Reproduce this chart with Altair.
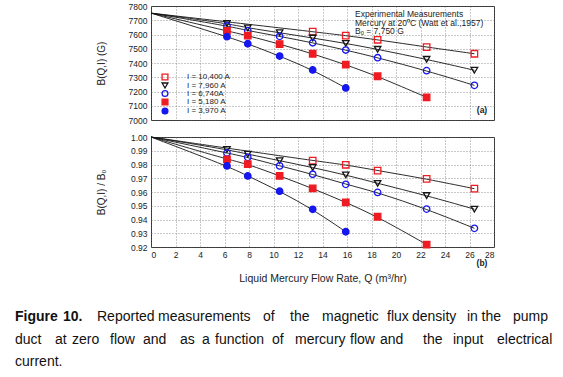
import altair as alt
import pandas as pd

# ---------------- data ----------------
series_labels = ["I = 10,400 A", "I = 7,960 A", "I = 6,740A", "I = 5,180 A", "I = 3,970 A"]

q_10400 = [13.2, 15.9, 18.5, 22.5, 26.4]
q_7960 = [6.2, 7.9, 10.5, 13.2, 15.9, 18.5, 22.5, 26.4]
q_6740 = [6.2, 7.9, 10.5, 13.2, 15.9, 18.5, 22.5, 26.4]
q_5180 = [6.2, 7.9, 10.5, 13.2, 15.9, 18.5, 22.5]
q_3970 = [6.2, 7.9, 10.5, 13.2, 15.9]

# panel (a): B(Q,I) in gauss
b_10400 = [7620, 7592, 7563, 7512, 7465]
b_7960 = [7678, 7646, 7613, 7575, 7538, 7496, 7426, 7349]
b_6740 = [7661, 7627, 7587, 7542, 7491, 7437, 7346, 7243]
b_5180 = [7625, 7592, 7533, 7465, 7388, 7307, 7159]
b_3970 = [7585, 7535, 7449, 7351, 7225]

# panel (b): B(Q,I)/B0
r_10400 = [0.9828, 0.9798, 0.9756, 0.9695, 0.9624]
r_7960 = [0.9909, 0.9875, 0.9828, 0.9778, 0.9724, 0.9663, 0.9574, 0.9475]
r_6740 = [0.9884, 0.9852, 0.9790, 0.9729, 0.9656, 0.9597, 0.9476, 0.9336]
r_5180 = [0.9838, 0.9803, 0.9717, 0.9626, 0.9525, 0.9420, 0.9218]
r_3970 = [0.9790, 0.9717, 0.9606, 0.9474, 0.9311]

# zero-flow values where every curve starts
q_zero = 0.0
b_zero = 7750
r_zero = 1.00

x_ticks = list(range(0, 29, 2))
b_ticks = list(range(7000, 7801, 100))
r_ticks = [0.92, 0.93, 0.94, 0.95, 0.96, 0.97, 0.98, 0.99, 1.00]

annotation_lines = ["Experimental Measurements",
                    "Mercury at 20\u2070C (Watt et al.,1957)",
                    "B\u2092 = 7,750 G"]

caption_line1 = ["Figure", "10.", "Reported", "measurements", "of", "the", "magnetic",
                 "flux", "density", "in", "the", "pump"]
caption_line2 = ["duct", "at", "zero", "flow", "and", "as", "a", "function", "of",
                 "mercury", "flow", "and", "the", "input", "electrical"]
caption_line3 = ["current."]

# ---------------- layout / styles (pixels) ----------------
PW, PH_A, PH_B = 343, 114, 110
GAP = 17
LEFT = 151
TOP = 7
CAP_TOP = TOP + PH_A + GAP + PH_B + GAP
cap_x1 = [15, 63, 97, 158, 263, 290, 322, 387, 412, 467, 481.5, 513]
cap_x2 = [15, 55, 72, 110, 143, 180, 202, 215, 272, 295, 350, 380, 423, 453, 497]
cap_x3 = [15]
cap_base = [322, 345, 367]
legend_sym_x = 14
legend_lab_x = 36
legend_rows_y = [71, 79.5, 87.5, 96, 105]

RED = "#ee1b22"
BLUE = "#1616ee"
BLACK = "#151515"
FONT = "Liberation Sans, Arial, sans-serif"
CAPFONT = "Liberation Sans, Arial, sans-serif"
shapes = ["square", "triangle-down", "circle", "square", "circle"]
strokes = [RED, BLACK, BLUE, RED, BLUE]
fills = ["transparent", "transparent", "transparent", RED, BLUE]

qs = [q_10400, q_7960, q_6740, q_5180, q_3970]
bs = [b_10400, b_7960, b_6740, b_5180, b_3970]
rs = [r_10400, r_7960, r_6740, r_5180, r_3970]

rows, lrows = [], []
for lab, qq, bb, rr in zip(series_labels, qs, bs, rs):
    lrows.append({"series": lab, "q": q_zero, "b": b_zero, "r": r_zero, "o": 0})
    for i, (q, b, r) in enumerate(zip(qq, bb, rr)):
        rows.append({"series": lab, "q": q, "b": b, "r": r})
        lrows.append({"series": lab, "q": q, "b": b, "r": r, "o": i + 1})
pts = pd.DataFrame(rows)
lines = pd.DataFrame(lrows)

shape_scale = alt.Scale(domain=series_labels, range=shapes)
stroke_scale = alt.Scale(domain=series_labels, range=strokes)
fill_scale = alt.Scale(domain=series_labels, range=fills)

xscale = alt.Scale(domain=[0, 28], nice=False, zero=False)
PT_SIZE = 42
PT_SW = 1.3

def yaxis(title, values, fmt):
    return alt.Axis(values=values, format=fmt, title=title, labelPadding=4,
                    minExtent=30, maxExtent=30, titlePadding=15)

def panel(field, ydomain, yticks, fmt, ytitle, x_axis):
    base_x = alt.X("q:Q", scale=xscale, axis=x_axis)
    base_y = alt.Y(f"{field}:Q", scale=alt.Scale(domain=ydomain, nice=False, zero=False),
                   axis=yaxis(ytitle, yticks, fmt))
    ln = alt.Chart(lines).mark_line(color=BLACK, strokeWidth=0.9, interpolate="basis").encode(
        x=base_x, y=base_y, detail="series:N", order="o:Q")
    pt = alt.Chart(pts).mark_point(filled=True, size=PT_SIZE, strokeWidth=PT_SW,
                                   opacity=1).encode(
        x=base_x, y=base_y,
        shape=alt.Shape("series:N", scale=shape_scale, legend=None),
        stroke=alt.Stroke("series:N", scale=stroke_scale, legend=None),
        fill=alt.Fill("series:N", scale=fill_scale, legend=None))
    return [ln, pt]

one = pd.DataFrame({"k": [0]})

def label(txt, x, y, size=8.5, weight="normal", align="left"):
    return alt.Chart(one).mark_text(text=txt, align=align, baseline="middle", font=FONT,
                                    fontSize=size, fontWeight=weight, color="#222").encode(
        x=alt.value(x), y=alt.value(y))

def legend_layers():
    out = []
    for lab, shp, stc, flc, ly in zip(series_labels, shapes, strokes, fills, legend_rows_y):
        out.append(alt.Chart(one).mark_point(shape=shp, filled=True, fill=flc, stroke=stc,
                                             size=34, strokeWidth=PT_SW, opacity=1).encode(
            x=alt.value(legend_sym_x), y=alt.value(ly)))
        out.append(label(lab, legend_lab_x, ly, 8))
    return out

top_layers = panel("b", [7000, 7800], b_ticks, "d", "B(Q,I) (G)",
                   alt.Axis(values=x_ticks, labels=False, title=None))
top_layers += legend_layers()
top_layers += [label(annotation_lines[0], 204, 8),
               label(annotation_lines[1], 204, 16.5),
               label(annotation_lines[2], 204, 25),
               label("(a)", 331, 104, 8.5, "bold", "center")]
top = alt.layer(*top_layers).properties(width=PW, height=PH_A)

bot_layers = panel("r", [0.92, 1.00], r_ticks, ".2f", "B(Q,I) / B\u2092",
                   alt.Axis(values=x_ticks, format="d", labelPadding=3,
                            title="Liquid Mercury Flow Rate, Q (m\u00b3/hr)",
                            titleFontSize=10.5, titlePadding=15))
bot_layers += [label("(b)", 331, 126, 8.5, "bold", "center")]
bottom = alt.layer(*bot_layers).properties(width=PW, height=PH_B)

crow = []
for words, xs, base in [(caption_line1, cap_x1, cap_base[0]),
                        (caption_line2, cap_x2, cap_base[1]),
                        (caption_line3, cap_x3, cap_base[2])]:
    for j, (w, x) in enumerate(zip(words, xs)):
        crow.append({"w": w, "px": x - LEFT, "py": base - CAP_TOP,
                     "bold": base == cap_base[0] and j < 2})
cap = pd.DataFrame(crow)

cap_reg = alt.Chart(cap).transform_filter("!datum.bold").mark_text(
    align="left", baseline="alphabetic", font=CAPFONT, fontSize=14, color="#111").encode(
    x=alt.X("px:Q", scale=None), y=alt.Y("py:Q", scale=None), text="w:N")
cap_bold = alt.Chart(cap).transform_filter("datum.bold").mark_text(
    align="left", baseline="alphabetic", font=CAPFONT, fontSize=14, fontWeight="bold",
    color="#111").encode(
    x=alt.X("px:Q", scale=None), y=alt.Y("py:Q", scale=None), text="w:N")
caption = alt.layer(cap_reg, cap_bold).properties(
    width=PW, height=110, view=alt.ViewBackground(strokeOpacity=0))

chart = alt.vconcat(top, bottom, caption, spacing=GAP, bounds="flush").resolve_scale(
    x="independent", y="independent", shape="independent", stroke="independent",
    fill="independent"
).properties(
    padding={"left": 15, "top": 1, "right": 5, "bottom": 4}, background="white"
).configure_view(stroke="#333", strokeWidth=1).configure_axis(
    grid=True, gridColor="#666", gridDash=[1, 2], gridWidth=0.7,
    domain=False, ticks=False,
    labelFont=FONT, labelFontSize=8.5, labelColor="#222",
    titleFont=FONT, titleFontSize=10, titleFontWeight="normal", titleColor="#222")

chart.save("out.html", embed_options={"renderer": "svg", "actions": False})
